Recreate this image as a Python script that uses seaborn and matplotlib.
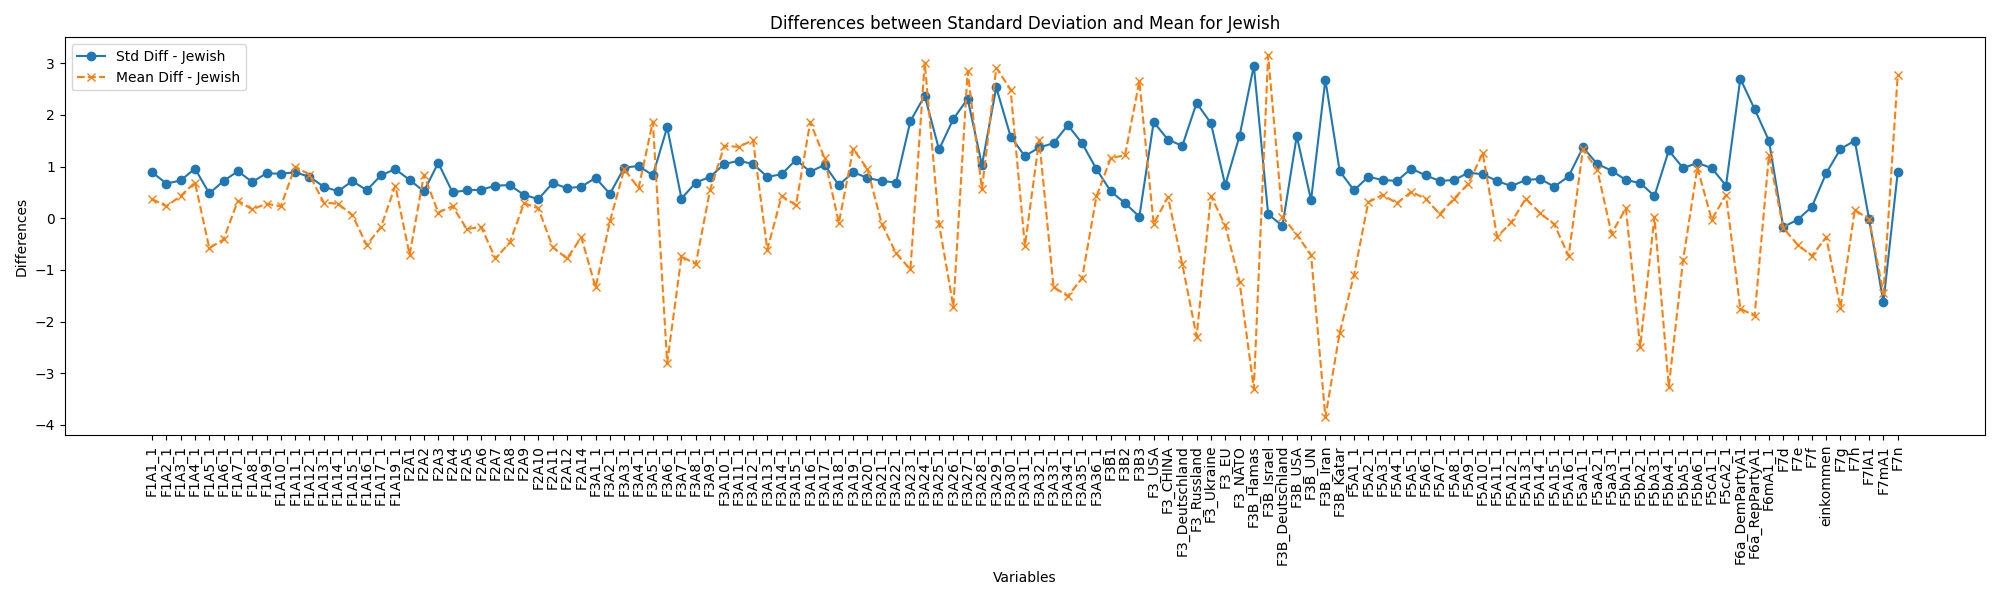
import matplotlib
matplotlib.use('Agg')
import matplotlib.pyplot as plt
import pandas as pd
import seaborn as sns

variables = (
    ['F1A%d_1' % i for i in [1, 2, 3, 4, 5, 6, 7, 8, 9, 10, 11, 12, 13, 14, 15, 16, 17, 19]]
    + ['F2A%d' % i for i in [1, 2, 3, 4, 5, 6, 7, 8, 9, 10, 11, 12, 14]]
    + ['F3A%d_1' % i for i in range(1, 37)]
    + ['F3B1', 'F3B2', 'F3B3']
    + ['F3_USA', 'F3_CHINA', 'F3_Deutschland', 'F3_Russland', 'F3_Ukraine', 'F3_EU', 'F3_NATO']
    + ['F3B_Hamas', 'F3B_Israel', 'F3B_Deutschland', 'F3B_USA', 'F3B_UN', 'F3B_Iran', 'F3B_Katar']
    + ['F5A%d_1' % i for i in range(1, 17)]
    + ['F5aA1_1', 'F5aA2_1', 'F5aA3_1']
    + ['F5bA%d_1' % i for i in range(1, 7)]
    + ['F5cA1_1', 'F5cA2_1']
    + ['F6a_DemPartyA1', 'F6a_RepPartyA1', 'F6mA1_1']
    + ['F7d', 'F7e', 'F7f', 'einkommen', 'F7g', 'F7h', 'F7lA1', 'F7mA1', 'F7n']
)

std_diff = [
    0.89, 0.67, 0.73, 0.96, 0.48, 0.72, 0.91, 0.70, 0.87, 0.86,
    0.89, 0.80, 0.61, 0.52, 0.72, 0.54, 0.83, 0.95, 0.74, 0.52,
    1.07, 0.50, 0.54, 0.55, 0.63, 0.64, 0.45, 0.37, 0.68, 0.58,
    0.61, 0.78, 0.47, 0.98, 1.01, 0.83, 1.76, 0.38, 0.69, 0.80,
    1.05, 1.11, 1.05, 0.80, 0.85, 1.13, 0.90, 1.03, 0.64, 0.89,
    0.78, 0.72, 0.69, 1.88, 2.37, 1.33, 1.92, 2.31, 1.03, 2.53,
    1.58, 1.20, 1.37, 1.45, 1.80, 1.45, 0.95, 0.52, 0.29, 0.03,
    1.86, 1.52, 1.40, 2.23, 1.84, 0.64, 1.59, 2.95, 0.08, -0.15,
    1.59, 0.35, 2.68, 0.91, 0.54, 0.80, 0.74, 0.72, 0.96, 0.83,
    0.72, 0.74, 0.88, 0.85, 0.72, 0.62, 0.74, 0.76, 0.61, 0.81,
    1.37, 1.05, 0.92, 0.74, 0.68, 0.43, 1.31, 0.97, 1.07, 0.97,
    0.63, 2.70, 2.11, 1.50, -0.17, -0.03, 0.22, 0.87, 1.34, 1.50,
    -0.02, -1.63, 0.89,
]

mean_diff = [
    0.37, 0.23, 0.43, 0.69, -0.58, -0.41, 0.34, 0.17, 0.28, 0.23,
    1.00, 0.84, 0.30, 0.28, 0.06, -0.52, -0.17, 0.63, -0.71, 0.84,
    0.11, 0.23, -0.21, -0.17, -0.78, -0.47, 0.29, 0.19, -0.56, -0.78,
    -0.37, -1.34, -0.06, 0.95, 0.58, 1.87, -2.80, -0.74, -0.89, 0.55,
    1.40, 1.38, 1.51, -0.61, 0.43, 0.25, 1.86, 1.16, -0.09, 1.34,
    0.95, -0.11, -0.68, -0.99, 3.01, -0.11, -1.71, 2.84, 0.56, 2.91,
    2.49, -0.54, 1.52, -1.33, -1.51, -1.16, 0.42, 1.16, 1.22, 2.65,
    -0.11, 0.41, -0.89, -2.29, 0.43, -0.14, -1.23, -3.30, 3.15, 0.03,
    -0.32, -0.71, -3.85, -2.22, -1.10, 0.31, 0.45, 0.29, 0.51, 0.38,
    0.08, 0.38, 0.67, 1.26, -0.36, -0.08, 0.38, 0.10, -0.12, -0.73,
    1.33, 0.94, -0.30, 0.19, -2.49, 0.03, -3.26, -0.81, 0.98, -0.03,
    0.45, -1.75, -1.89, 1.22, -0.19, -0.51, -0.73, -0.37, -1.73, 0.16,
    -0.02, -1.45, 2.77,
]

df = pd.DataFrame({'Variables': variables, 'Std': std_diff, 'Mean': mean_diff})

fig, ax = plt.subplots(figsize=(20, 6), dpi=100)
sns.lineplot(data=df, x='Variables', y='Std', sort=False, ax=ax,
             color='#1f77b4', linewidth=1.5, marker='o', markersize=6,
             markeredgecolor='#1f77b4', markeredgewidth=1,
             label='Std Diff - Jewish')
sns.lineplot(data=df, x='Variables', y='Mean', sort=False, ax=ax,
             color='#ff7f0e', linewidth=1.5, linestyle='--', marker='x', markersize=6,
             markeredgecolor='#ff7f0e', markeredgewidth=1,
             label='Mean Diff - Jewish')

ax.set_title('Differences between Standard Deviation and Mean for Jewish')
ax.set_xlabel('Variables')
ax.set_ylabel('Differences')
ax.tick_params(axis='x', rotation=90)
ax.legend(loc='upper left')

fig.tight_layout()
fig.savefig('out.png')
